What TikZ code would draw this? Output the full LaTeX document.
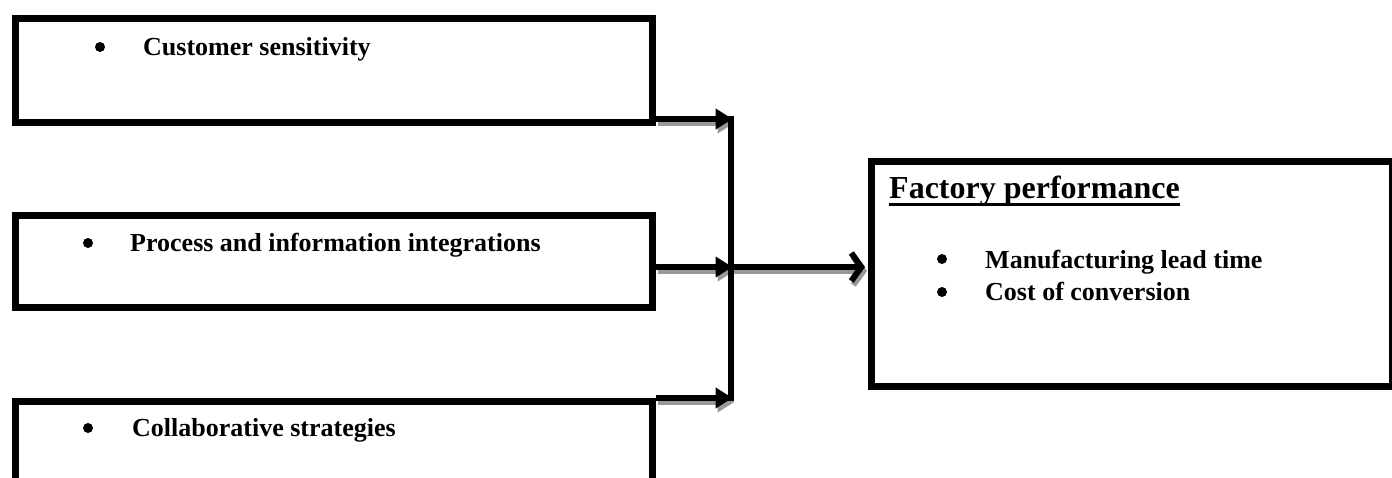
\documentclass[tikz,border=0pt]{standalone}
\usepackage{fontspec}
\setmainfont{Liberation Serif}
\usetikzlibrary{arrows.meta}
\begin{document}
\begin{tikzpicture}[x=1pt,y=-1pt,
  box/.style={draw, line width=7pt, rectangle, inner sep=0pt, anchor=north west},
  lbl/.style={anchor=base west, inner sep=0pt, font=\fontsize{26}{30}\selectfont\bfseries},
  bul/.style={circle, fill, inner sep=0pt, minimum size=10pt},
  conn/.style={line width=6pt},
  shadowline/.style={draw=black!40, line width=6pt},
  inarrow/.style={conn, -{Triangle[length=17pt,width=20pt]}},
  outarrow/.style={conn, -{Straight Barb[length=10pt,width=28pt,line width=6pt]}}]
\useasboundingbox (0,0) rectangle (1392,477);
\fill[white] (0,0) rectangle (1392,477);
% input boxes
\node[box, minimum width=637pt, minimum height=103.5pt] (b1) at (12,15) {};
\node[box, minimum width=637pt, minimum height=92pt] (b2) at (12,211.5) {};
\node[box, minimum width=637pt, minimum height=110pt] (b3) at (12,397.5) {};
% output box
\node[box, minimum width=521pt, minimum height=225pt] (rb) at (868,157.5) {};
% texts
\node[bul] (d1) at (100,47) {};
\node[lbl] (t1) at (143,55) {Customer sensitivity};
\node[bul] (d2) at (88,243) {};
\node[lbl] (t2) at (130,251) {Process and information integrations};
\node[bul] (d3) at (88,428) {};
\node[lbl] (t3) at (132,436) {Collaborative strategies};
\node[anchor=base west, inner sep=0pt, font=\fontsize{32}{36}\selectfont\bfseries] (title) at (889,198) {Factory performance};
\draw[line width=3pt] ([yshift=-6.5pt]title.base west) -- ([yshift=-6.5pt]title.base east);
\node[bul] (d4) at (942,259) {};
\node[lbl] (t4) at (985,268) {Manufacturing lead time};
\node[bul] (d5) at (942,292) {};
\node[lbl] (t5) at (985,300) {Cost of conversion};
% junction
\coordinate (j1) at (730.5,119);
\coordinate (j2) at (730.5,267);
\coordinate (j3) at (730.5,398);
% shadows of the arrows
\begin{scope}[transform canvas={shift={(2pt,-4pt)}}]
\draw[shadowline, -{Triangle[length=17pt,width=20pt]}] (b1.south east |- j1) -- ([xshift=2pt]j1);
\draw[shadowline, -{Triangle[length=17pt,width=20pt]}] (b2.east |- j2) -- ([xshift=2pt]j2);
\draw[shadowline, -{Triangle[length=17pt,width=20pt]}] (b3.north east |- j3) -- ([xshift=2pt]j3);
\draw[shadowline, -{Straight Barb[length=10pt,width=28pt,line width=6pt]}] (j2) -- ([xshift=-3pt]rb.west |- j2);
\end{scope}
\draw[conn] ([yshift=3pt]j1) -- ([yshift=-3pt]j3);
\draw[inarrow] (b1.south east |- j1) -- ([xshift=2pt]j1);
\draw[inarrow] (b2.east |- j2) -- ([xshift=2pt]j2);
\draw[inarrow] (b3.north east |- j3) -- ([xshift=2pt]j3);
\draw[outarrow] (j2) -- ([xshift=-3pt]rb.west |- j2);
\end{tikzpicture}
\end{document}
